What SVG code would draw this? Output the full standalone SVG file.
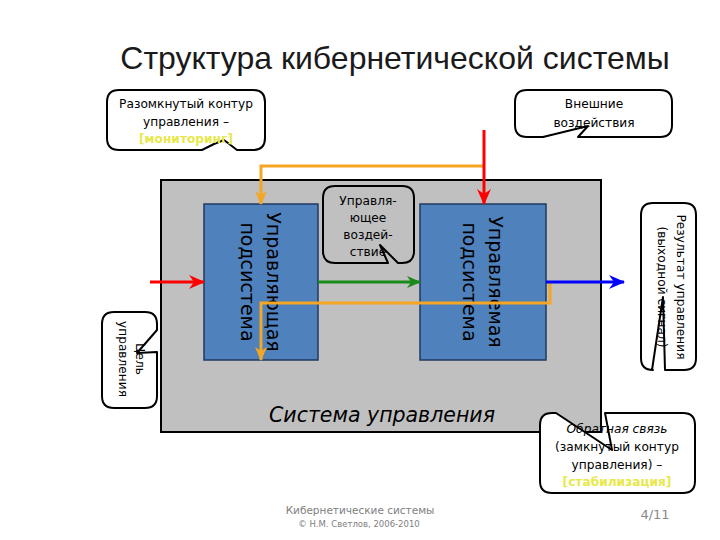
<svg xmlns="http://www.w3.org/2000/svg" width="720" height="540" viewBox="0 0 720 540">
<style>
.t{font-family:"DejaVu Sans","Liberation Sans",sans-serif;fill:#000}
.s{font-size:12.2px}
.c{fill:#fff;stroke:#000;stroke-width:2;stroke-linejoin:round}
.blk{fill:#4f81bd;stroke:#1f3a5f;stroke-width:1.5}
.ln{fill:none;stroke-width:3}
.y{fill:#e8e84a;font-weight:bold}
</style>
<defs>
<marker id="aR" markerUnits="userSpaceOnUse" markerWidth="16" markerHeight="14" refX="15" refY="7" orient="auto"><path d="M0,0 L16,7 L0,14 L5,7 Z" fill="#ff0000"/></marker>
<marker id="aO" markerUnits="userSpaceOnUse" markerWidth="14" markerHeight="12" refX="13" refY="6" orient="auto"><path d="M0,0 L14,6 L0,12 L4,6 Z" fill="#f5a623"/></marker>
<marker id="aG" markerUnits="userSpaceOnUse" markerWidth="14" markerHeight="12" refX="13" refY="6" orient="auto"><path d="M0,0 L14,6 L0,12 L4,6 Z" fill="#1a8a1a"/></marker>
<marker id="aB" markerUnits="userSpaceOnUse" markerWidth="16" markerHeight="14" refX="15" refY="7" orient="auto"><path d="M0,0 L16,7 L0,14 L5,7 Z" fill="#0000ff"/></marker>
</defs>
<rect width="720" height="540" fill="#fff"/>
<text x="395" y="69" text-anchor="middle" font-family="Liberation Sans, Arial, sans-serif" font-size="32" fill="#1a1a1a">Структура кибернетической системы</text>

<g id="system">
<rect x="161" y="180" width="440" height="252" fill="#c0c0c0" stroke="#000" stroke-width="2"/>
<text class="t" x="382" y="422" text-anchor="middle" font-size="20.5" font-style="italic">Система управления</text>
</g>

<g id="controlling">
<rect class="blk" x="204" y="204" width="114" height="156"/>
<g transform="translate(261,282) rotate(90)"><text class="t" text-anchor="middle" font-size="19" fill="#0f1f33"><tspan x="0" y="-6">Управляющая</tspan><tspan x="0" y="20">подсистема</tspan></text></g>
</g>

<g id="controlled">
<rect class="blk" x="420" y="204" width="126" height="156"/>
<g transform="translate(483,282) rotate(90)"><text class="t" text-anchor="middle" font-size="19"><tspan x="0" y="-6">Управляемая</tspan><tspan x="0" y="20">подсистема</tspan></text></g>
</g>

<g id="connectors">
<path class="ln" d="M484,166 H261 V204" stroke="#f5a623" stroke-width="2.5" marker-end="url(#aO)"/>
<path class="ln" d="M550,283 V303 H261 V360" stroke="#f5a623" stroke-width="2.5" marker-end="url(#aO)"/>
<path class="ln" d="M150,282 H204" stroke="#ff0000" marker-end="url(#aR)"/>
<path class="ln" d="M484,130 V204" stroke="#ff0000" marker-end="url(#aR)"/>
<path class="ln" d="M318,282 H420" stroke="#1a8a1a" marker-end="url(#aG)"/>
<path class="ln" d="M546,282 H624" stroke="#0000ff" marker-end="url(#aB)"/>
</g>

<g id="callout-open">
<path class="c" d="M119,90 H253 Q265,90 265,102 V138 Q265,150 253,150 H237 L224,140 L214,144 L202,150 H119 Q107,150 107,138 V102 Q107,90 119,90 Z"/>
<text class="t s" text-anchor="middle"><tspan x="186" y="108">Разомкнутый контур</tspan><tspan x="186" y="126">управления –</tspan><tspan class="y" x="186" y="143">[мониторинг]</tspan></text>
</g>

<g id="callout-external">
<path class="c" d="M527,90 H660 Q672,90 672,102 V125 Q672,137 660,137 H578 L588,126 L543,137 H527 Q515,137 515,125 V102 Q515,90 527,90 Z"/>
<text class="t s" text-anchor="middle"><tspan x="594" y="108">Внешние</tspan><tspan x="594" y="127">воздействия</tspan></text>
</g>

<g id="callout-action">
<path class="c" style="fill:#c0c0c0" d="M335,186 H402 Q414,186 414,198 V251 Q414,263 402,263 H398 L380,245 L388,263 H335 Q323,263 323,251 V198 Q323,186 335,186 Z"/>
<text class="t s" text-anchor="middle"><tspan x="368" y="205">Управля-</tspan><tspan x="368" y="222">ющее</tspan><tspan x="368" y="239">воздей-</tspan><tspan x="368" y="256">ствие</tspan></text>
</g>

<g id="callout-goal">
<path class="c" d="M114,312 H145 Q157,312 157,324 V330 L137,353 L157,352 V396 Q157,408 145,408 H114 Q102,408 102,396 V324 Q102,312 114,312 Z"/>
<g transform="translate(130,359) rotate(90)"><text class="t s" text-anchor="middle"><tspan x="0" y="-6">Цель</tspan><tspan x="0" y="11">управления</tspan></text></g>
</g>

<g id="callout-result">
<path class="c" d="M653,203 H684 Q696,203 696,215 V358 Q696,370 684,370 H665 L663,297 L652,370 H653 Q641,370 641,358 V215 Q641,203 653,203 Z"/>
<g transform="translate(668,287) rotate(90)"><text class="t s" text-anchor="middle"><tspan x="0" y="-9">Результат управления</tspan><tspan x="0" y="10">(выходной сигнал)</tspan></text></g>
</g>

<g id="callout-feedback">
<path class="c" d="M552,413 H556 L612,450 L605,413 H683 Q695,413 695,425 V481 Q695,493 683,493 H552 Q540,493 540,481 V425 Q540,413 552,413 Z"/>
<text class="t s" text-anchor="middle"><tspan x="617" y="433" font-style="italic">Обратная связь</tspan><tspan x="617" y="451">(замкнутый контур</tspan><tspan x="617" y="469">управления) –</tspan><tspan class="y" x="617" y="486">[стабилизация]</tspan></text>
</g>

<g id="footer">
<text class="t" x="360" y="514" text-anchor="middle" font-size="10.5" style="fill:#808080">Кибернетические системы</text>
<text class="t" x="359" y="527" text-anchor="middle" font-size="8.5" style="fill:#808080">© Н.М. Светлов, 2006-2010</text>
<text class="t" x="655" y="519" text-anchor="middle" font-size="13" style="fill:#888">4/11</text>
</g>
</svg>
